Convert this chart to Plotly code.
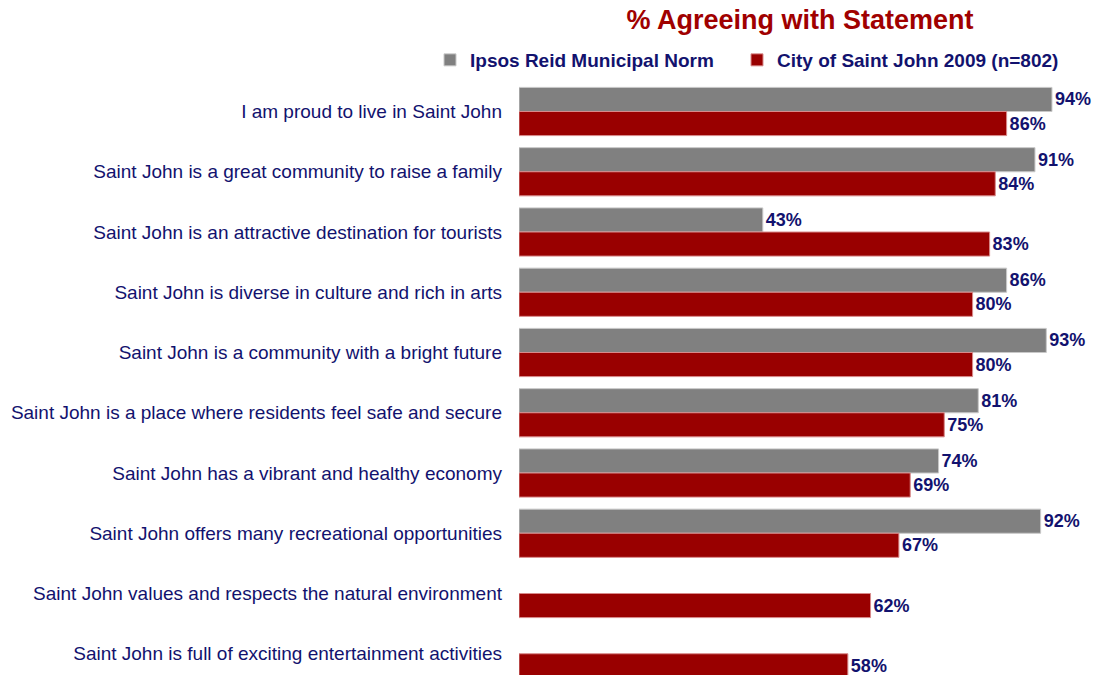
import plotly.graph_objects as go

categories = [
    "I am proud to live in Saint John",
    "Saint John is a great community to raise a family",
    "Saint John is an attractive destination for tourists",
    "Saint John is diverse in culture and rich in arts",
    "Saint John is a community with a bright future",
    "Saint John is a place where residents feel safe and secure",
    "Saint John has a vibrant and healthy economy",
    "Saint John offers many recreational opportunities",
    "Saint John values and respects the natural environment",
    "Saint John is full of exciting entertainment activities",
]
norm_values = [94, 91, 43, 86, 93, 81, 74, 92, None, None]
city_values = [86, 84, 83, 80, 80, 75, 69, 67, 62, 58]

NAVY = "#12126e"
GRAY = "#808080"
RED = "#990000"
OFF = 8                      # page body margin
W, H = 1100 - OFF, 675 - OFF
FONT = "Liberation Sans, Arial"

def lbl(vals):
    return [f"{v}%" if v is not None else "" for v in vals]

def px(v):                   # page pixel -> figure pixel
    return v - OFF

val_font = dict(family=FONT, size=18, color=NAVY, weight="bold")
leg_font = dict(family=FONT, size=19, color=NAVY, weight="bold")

fig = go.Figure()
fig.add_trace(go.Bar(
    y=categories, x=norm_values, orientation="h", name="Ipsos Reid Municipal Norm",
    marker=dict(color=GRAY, line=dict(color="#c8c8c8", width=1)),
    text=lbl(norm_values), textposition="outside", cliponaxis=False,
    textfont=val_font, constraintext="none", hoverinfo="skip",
    legend="legend", showlegend=True,
))
fig.add_trace(go.Bar(
    y=categories, x=city_values, orientation="h", name="City of Saint John 2009 (n=802)",
    marker=dict(color=RED, line=dict(color="#d88a8a", width=1)),
    text=lbl(city_values), textposition="outside", cliponaxis=False,
    textfont=val_font, constraintext="none", hoverinfo="skip",
    legend="legend2", showlegend=True,
))

x0_px, x1_px = px(519), px(1086)
top_px = px(80)
row0_px, row_step = px(111.5), 60.25
y_top_val = (top_px - row0_px) / row_step
y_bot_val = (H - row0_px) / row_step

legend_common = dict(
    orientation="h", xanchor="left", yanchor="middle", y=1 - px(60) / H,
    font=leg_font, bgcolor="rgba(0,0,0,0)", itemclick=False, itemdoubleclick=False,
    visible=True,
)

fig.update_layout(
    width=W, height=H, showlegend=True,
    margin=dict(l=0, r=0, t=0, b=0, autoexpand=False),
    paper_bgcolor="white", plot_bgcolor="white",
    barmode="group", bargap=0.2, bargroupgap=0.0,
    font=dict(family=FONT, color=NAVY),
    title=dict(
        text="<b>% Agreeing with Statement</b>",
        font=dict(family=FONT, size=27, color="#a00000"),
        x=px(800) / W, xanchor="center", y=1, yanchor="top",
        pad=dict(t=2, b=0, l=0, r=0),
    ),
    legend=dict(x=px(430) / W, **legend_common),
    legend2=dict(x=px(737) / W, **legend_common),
    xaxis=dict(
        range=[0, 100], domain=[x0_px / W, x1_px / W], automargin=False,
        showgrid=False, zeroline=False, showline=False, showticklabels=False, ticks="",
    ),
    yaxis=dict(
        categoryorder="array", categoryarray=categories, automargin=False,
        range=[y_bot_val, y_top_val], domain=[0, 1 - top_px / H],
        showgrid=False, zeroline=False, showline=False, ticks="",
        ticklabelstandoff=16,
        tickfont=dict(family=FONT, size=19, color=NAVY),
    ),
)

fig.write_html("out.html")
